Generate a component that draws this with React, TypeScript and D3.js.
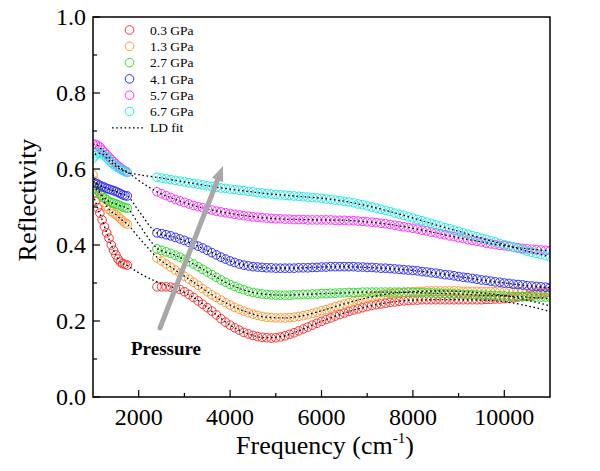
import React from "react";
import * as d3 from "d3";

// ---- data ----
const pressures = ["0.3 GPa", "1.3 GPa", "2.7 GPa", "4.1 GPa", "5.7 GPa", "6.7 GPa"];
const colors = ["#ff3030", "#ff9a3a", "#30dd30", "#3030ff", "#ff30ff", "#20eaea"];

// low-frequency segment: 1000..1750 cm-1, 50 cm-1 spacing
const lowFreq = d3.range(1000, 1751, 50);
const lowRed = [0.535, 0.515, 0.498, 0.484, 0.466, 0.448, 0.432, 0.418, 0.400, 0.386, 0.374, 0.363, 0.355, 0.351, 0.349, 0.347];
const lowOrange = [0.585, 0.568, 0.553, 0.540, 0.525, 0.512, 0.502, 0.494, 0.488, 0.484, 0.480, 0.475, 0.469, 0.463, 0.458, 0.455];
const lowGreen = [0.556, 0.550, 0.543, 0.537, 0.530, 0.524, 0.519, 0.515, 0.512, 0.510, 0.508, 0.506, 0.503, 0.500, 0.498, 0.497];
const lowBlue = [0.566, 0.563, 0.560, 0.557, 0.554, 0.552, 0.549, 0.547, 0.545, 0.543, 0.541, 0.538, 0.535, 0.532, 0.530, 0.529];
const lowMagenta = [0.665, 0.665, 0.662, 0.658, 0.650, 0.644, 0.638, 0.631, 0.625, 0.619, 0.613, 0.608, 0.603, 0.599, 0.595, 0.592];
const lowCyan = [0.628, 0.635, 0.642, 0.643, 0.640, 0.635, 0.629, 0.623, 0.617, 0.612, 0.607, 0.603, 0.599, 0.596, 0.593, 0.591];

// high-frequency segment: 2400..11000 cm-1, 100 cm-1 spacing
const highFreq = d3.range(2400, 11001, 100);
const highRed = [
  0.290, 0.290, 0.290, 0.289, 0.287, 0.283, 0.277, 0.270, 0.262, 0.253,
  0.244, 0.235, 0.226, 0.216, 0.206, 0.197, 0.189, 0.182, 0.176, 0.170,
  0.166, 0.162, 0.159, 0.157, 0.156, 0.155, 0.156, 0.158, 0.161, 0.165,
  0.169, 0.174, 0.179, 0.184, 0.189, 0.194, 0.199, 0.204, 0.208, 0.213,
  0.217, 0.221, 0.225, 0.229, 0.232, 0.235, 0.238, 0.241, 0.243, 0.245,
  0.247, 0.249, 0.250, 0.252, 0.253, 0.254, 0.255, 0.255, 0.256, 0.256,
  0.256, 0.256, 0.256, 0.256, 0.256, 0.256, 0.256, 0.256, 0.256, 0.256,
  0.256, 0.256, 0.257, 0.257, 0.258, 0.258, 0.259, 0.260, 0.261, 0.263,
  0.264, 0.266, 0.268, 0.270, 0.272, 0.274, 0.276,
];
const highOrange = [
  0.366, 0.358, 0.350, 0.342, 0.334, 0.326, 0.318, 0.310, 0.302, 0.294,
  0.285, 0.277, 0.269, 0.262, 0.255, 0.248, 0.242, 0.236, 0.231, 0.226,
  0.222, 0.218, 0.215, 0.212, 0.210, 0.209, 0.208, 0.208, 0.208, 0.209,
  0.210, 0.212, 0.214, 0.217, 0.220, 0.223, 0.227, 0.230, 0.234, 0.238,
  0.241, 0.245, 0.248, 0.252, 0.255, 0.258, 0.261, 0.263, 0.266, 0.268,
  0.270, 0.272, 0.273, 0.274, 0.275, 0.276, 0.277, 0.278, 0.278, 0.279,
  0.279, 0.279, 0.279, 0.279, 0.279, 0.279, 0.279, 0.278, 0.278, 0.278,
  0.278, 0.278, 0.278, 0.278, 0.277, 0.277, 0.277, 0.277, 0.277, 0.277,
  0.277, 0.277, 0.277, 0.277, 0.277, 0.277, 0.277,
];
const highGreen = [
  0.390, 0.386, 0.382, 0.378, 0.373, 0.368, 0.362, 0.356, 0.350, 0.343,
  0.336, 0.329, 0.322, 0.315, 0.308, 0.302, 0.296, 0.291, 0.286, 0.282,
  0.278, 0.275, 0.273, 0.271, 0.270, 0.269, 0.268, 0.268, 0.268, 0.268,
  0.269, 0.269, 0.270, 0.270, 0.271, 0.271, 0.272, 0.272, 0.273, 0.273,
  0.274, 0.274, 0.275, 0.275, 0.275, 0.276, 0.276, 0.276, 0.276, 0.276,
  0.276, 0.276, 0.276, 0.276, 0.276, 0.276, 0.275, 0.275, 0.275, 0.274,
  0.274, 0.273, 0.273, 0.272, 0.272, 0.271, 0.271, 0.270, 0.270, 0.269,
  0.269, 0.268, 0.268, 0.267, 0.267, 0.266, 0.266, 0.265, 0.265, 0.265,
  0.264, 0.264, 0.264, 0.263, 0.263, 0.263, 0.263,
];
const highBlue = [
  0.432, 0.430, 0.427, 0.424, 0.420, 0.416, 0.412, 0.407, 0.402, 0.397,
  0.392, 0.386, 0.380, 0.374, 0.368, 0.363, 0.358, 0.354, 0.350, 0.347,
  0.345, 0.343, 0.342, 0.341, 0.340, 0.340, 0.339, 0.339, 0.339, 0.339,
  0.339, 0.340, 0.340, 0.340, 0.341, 0.341, 0.342, 0.342, 0.343, 0.343,
  0.343, 0.343, 0.343, 0.343, 0.342, 0.342, 0.341, 0.341, 0.340, 0.339,
  0.339, 0.338, 0.337, 0.336, 0.335, 0.334, 0.333, 0.332, 0.330, 0.329,
  0.327, 0.326, 0.324, 0.322, 0.321, 0.319, 0.317, 0.315, 0.314, 0.312,
  0.310, 0.308, 0.307, 0.305, 0.303, 0.302, 0.300, 0.299, 0.297, 0.296,
  0.295, 0.293, 0.292, 0.291, 0.290, 0.289, 0.288,
];
const highMagenta = [
  0.540, 0.535, 0.530, 0.525, 0.520, 0.516, 0.512, 0.508, 0.504, 0.501,
  0.498, 0.495, 0.492, 0.489, 0.487, 0.485, 0.483, 0.481, 0.479, 0.477,
  0.476, 0.474, 0.473, 0.472, 0.471, 0.470, 0.469, 0.469, 0.468, 0.468,
  0.467, 0.467, 0.467, 0.466, 0.466, 0.466, 0.466, 0.466, 0.466, 0.465,
  0.465, 0.465, 0.464, 0.464, 0.463, 0.462, 0.461, 0.460, 0.459, 0.457,
  0.456, 0.454, 0.452, 0.450, 0.448, 0.446, 0.444, 0.442, 0.439, 0.437,
  0.434, 0.432, 0.429, 0.427, 0.424, 0.422, 0.419, 0.417, 0.414, 0.412,
  0.410, 0.408, 0.405, 0.403, 0.401, 0.399, 0.398, 0.396, 0.394, 0.393,
  0.391, 0.390, 0.389, 0.388, 0.387, 0.386, 0.385,
];
const highCyan = [
  0.578, 0.576, 0.574, 0.572, 0.570, 0.568, 0.566, 0.564, 0.562, 0.560,
  0.558, 0.556, 0.554, 0.552, 0.550, 0.549, 0.547, 0.546, 0.544, 0.543,
  0.541, 0.540, 0.538, 0.537, 0.535, 0.534, 0.533, 0.532, 0.531, 0.530,
  0.529, 0.528, 0.527, 0.526, 0.525, 0.524, 0.523, 0.521, 0.520, 0.518,
  0.517, 0.515, 0.513, 0.511, 0.508, 0.506, 0.503, 0.500, 0.497, 0.494,
  0.491, 0.488, 0.484, 0.481, 0.478, 0.474, 0.471, 0.467, 0.464, 0.460,
  0.457, 0.453, 0.450, 0.446, 0.443, 0.439, 0.436, 0.432, 0.429, 0.425,
  0.422, 0.418, 0.415, 0.411, 0.408, 0.404, 0.401, 0.398, 0.394, 0.391,
  0.388, 0.384, 0.381, 0.378, 0.375, 0.372, 0.369,
];

// Lorentz-Drude fits
const fitFreq = [1000, 1100, 1200, 1300, 1400, 1500, 1600, 1750, 2000, 2400, 2800, 3200, 3600, 4000, 4400, 4800, 5200, 5600, 6000, 6500, 7000, 7500, 8000, 8500, 9000, 9500, 10000, 10500, 11000];
const fitRed = [0.532, 0.498, 0.466, 0.432, 0.400, 0.374, 0.355, 0.346, 0.327, 0.303, 0.286, 0.262, 0.226, 0.189, 0.166, 0.156, 0.161, 0.179, 0.199, 0.221, 0.238, 0.249, 0.255, 0.256, 0.256, 0.255, 0.251, 0.240, 0.225];
const fitOrange = [0.585, 0.553, 0.525, 0.502, 0.488, 0.480, 0.469, 0.455, 0.420, 0.368, 0.334, 0.302, 0.269, 0.242, 0.222, 0.210, 0.208, 0.214, 0.227, 0.245, 0.261, 0.272, 0.277, 0.279, 0.278, 0.274, 0.267, 0.255, 0.240];
const fitGreen = [0.556, 0.543, 0.530, 0.519, 0.512, 0.508, 0.503, 0.497, 0.455, 0.392, 0.373, 0.350, 0.322, 0.296, 0.278, 0.270, 0.268, 0.270, 0.272, 0.274, 0.276, 0.276, 0.275, 0.273, 0.271, 0.268, 0.266, 0.263, 0.259];
const fitBlue = [0.566, 0.560, 0.554, 0.549, 0.545, 0.541, 0.535, 0.529, 0.490, 0.432, 0.420, 0.402, 0.380, 0.358, 0.345, 0.340, 0.339, 0.340, 0.342, 0.343, 0.341, 0.338, 0.333, 0.326, 0.317, 0.308, 0.300, 0.293, 0.288];
const fitMagenta = [0.665, 0.662, 0.650, 0.638, 0.625, 0.613, 0.603, 0.592, 0.570, 0.540, 0.520, 0.504, 0.492, 0.483, 0.476, 0.471, 0.468, 0.467, 0.466, 0.465, 0.461, 0.454, 0.444, 0.432, 0.419, 0.408, 0.398, 0.390, 0.385];
const fitCyan = [0.628, 0.642, 0.640, 0.629, 0.617, 0.607, 0.599, 0.591, 0.585, 0.578, 0.570, 0.562, 0.554, 0.547, 0.541, 0.535, 0.531, 0.527, 0.523, 0.515, 0.503, 0.488, 0.471, 0.453, 0.436, 0.418, 0.401, 0.384, 0.369];

const xTicks = [2000, 4000, 6000, 8000, 10000];
const xMinor = [3000, 5000, 7000, 9000];
const yTicks = [0.0, 0.2, 0.4, 0.6, 0.8, 1.0];
const yMinor = [0.1, 0.3, 0.5, 0.7, 0.9];

const lows = [lowRed, lowOrange, lowGreen, lowBlue, lowMagenta, lowCyan];
const highs = [highRed, highOrange, highGreen, highBlue, highMagenta, highCyan];
const fits = [fitRed, fitOrange, fitGreen, fitBlue, fitMagenta, fitCyan];

// ---- layout ----
const W = 600, H = 471;
const L = 93, R = 550, T = 17, B = 397;
const FONT = "'Liberation Serif', 'Times New Roman', Times, serif";
const tf = { fontFamily: FONT };

export default function App() {
  const x = d3.scaleLinear().domain([1000, 11000]).range([L, R]);
  const y = d3.scaleLinear().domain([0, 1]).range([B, T]);
  const line = d3
    .line<[number, number]>()
    .x((d) => x(d[0]))
    .y((d) => y(d[1]))
    .curve(d3.curveMonotoneX);

  const legendY0 = 30, legendDy = 16.3;

  // arrow
  const ax0 = 160, ay0 = 328, ax1 = 223, ay1 = 166;
  const ang = Math.atan2(ay1 - ay0, ax1 - ax0);
  const headL = 15, headW = 6;
  const bx = ax1 - headL * Math.cos(ang), by = ay1 - headL * Math.sin(ang);
  const px = -Math.sin(ang) * headW, py = Math.cos(ang) * headW;

  return (
    <svg width={W} height={H} style={{ position: "absolute", left: 0, top: 0, background: "#fff", fontFamily: FONT }}>
      <defs>
        <clipPath id="plotclip">
          <rect x={L} y={T} width={R - L} height={B - T} />
        </clipPath>
      </defs>
      <rect x={0} y={0} width={W} height={H} fill="#fff" />

      {/* data */}
      <g clipPath="url(#plotclip)">
        {pressures.map((p, i) => (
          <g key={p} fill="none" stroke={colors[i]} strokeWidth={1}>
            {lows[i].map((v, j) => (
              <circle key={"l" + j} cx={x(lowFreq[j])} cy={y(v)} r={4.3} />
            ))}
            {highs[i].map((v, j) => (
              <circle key={"h" + j} cx={x(highFreq[j])} cy={y(v)} r={4.3} />
            ))}
          </g>
        ))}
        {fits.map((f, i) => (
          <path
            key={"fit" + i}
            d={line(fitFreq.map((fr, j) => [fr, f[j]] as [number, number])) || ""}
            fill="none"
            stroke="#000"
            strokeWidth={1.3}
            strokeDasharray="1.6,2.6"
          />
        ))}
      </g>

      {/* arrow */}
      <line x1={ax0} y1={ay0} x2={bx} y2={by} stroke="#a8a8a8" strokeWidth={5} strokeLinecap="round" />
      <polygon points={`${ax1},${ay1} ${bx + px},${by + py} ${bx - px},${by - py}`} fill="#a8a8a8" />
      <text x={131} y={355} fontSize={19} fontWeight="bold" fill="#000" style={tf}>Pressure</text>

      {/* frame */}
      <rect x={L} y={T} width={R - L} height={B - T} fill="none" stroke="#000" strokeWidth={1.5} />

      {/* x ticks */}
      {xTicks.map((t) => (
        <g key={"xt" + t}>
          <line x1={x(t)} x2={x(t)} y1={B} y2={B - 7} stroke="#000" strokeWidth={1.2} />
          <text x={x(t)} y={425} fontSize={24} textAnchor="middle" fill="#000" style={tf}>{t}</text>
        </g>
      ))}
      {xMinor.map((t) => (
        <line key={"xm" + t} x1={x(t)} x2={x(t)} y1={B} y2={B - 4} stroke="#000" strokeWidth={1.2} />
      ))}
      {/* y ticks */}
      {yTicks.map((t) => (
        <g key={"yt" + t}>
          <line x1={L} x2={L + 7} y1={y(t)} y2={y(t)} stroke="#000" strokeWidth={1.2} />
          <text x={86} y={y(t) + 8} fontSize={24} textAnchor="end" fill="#000" style={tf}>{t.toFixed(1)}</text>
        </g>
      ))}
      {yMinor.map((t) => (
        <line key={"ym" + t} x1={L} x2={L + 4} y1={y(t)} y2={y(t)} stroke="#000" strokeWidth={1.2} />
      ))}

      {/* axis titles */}
      <text x={325} y={454} fontSize={26} textAnchor="middle" fill="#000" style={tf}>
        Frequency (cm<tspan fontSize={15} dy={-11}>-1</tspan><tspan dy={11}>)</tspan>
      </text>
      <text transform={`translate(36,200) rotate(-90)`} fontSize={26} textAnchor="middle" fill="#000" style={tf}>Reflectivity</text>

      {/* legend */}
      {pressures.map((p, i) => (
        <g key={"lg" + p}>
          <circle cx={129.5} cy={legendY0 + i * legendDy} r={4.3} fill="none" stroke={colors[i]} strokeWidth={1} />
          <text x={150} y={legendY0 + i * legendDy + 4.6} fontSize={13.5} fill="#000" style={tf}>{p}</text>
        </g>
      ))}
      <line x1={112} x2={143} y1={legendY0 + 6 * legendDy} y2={legendY0 + 6 * legendDy} stroke="#000" strokeWidth={1.3} strokeDasharray="1.6,2.6" />
      <text x={150} y={legendY0 + 6 * legendDy + 4.6} fontSize={13.5} fill="#000" style={tf}>LD fit</text>
    </svg>
  );
}
